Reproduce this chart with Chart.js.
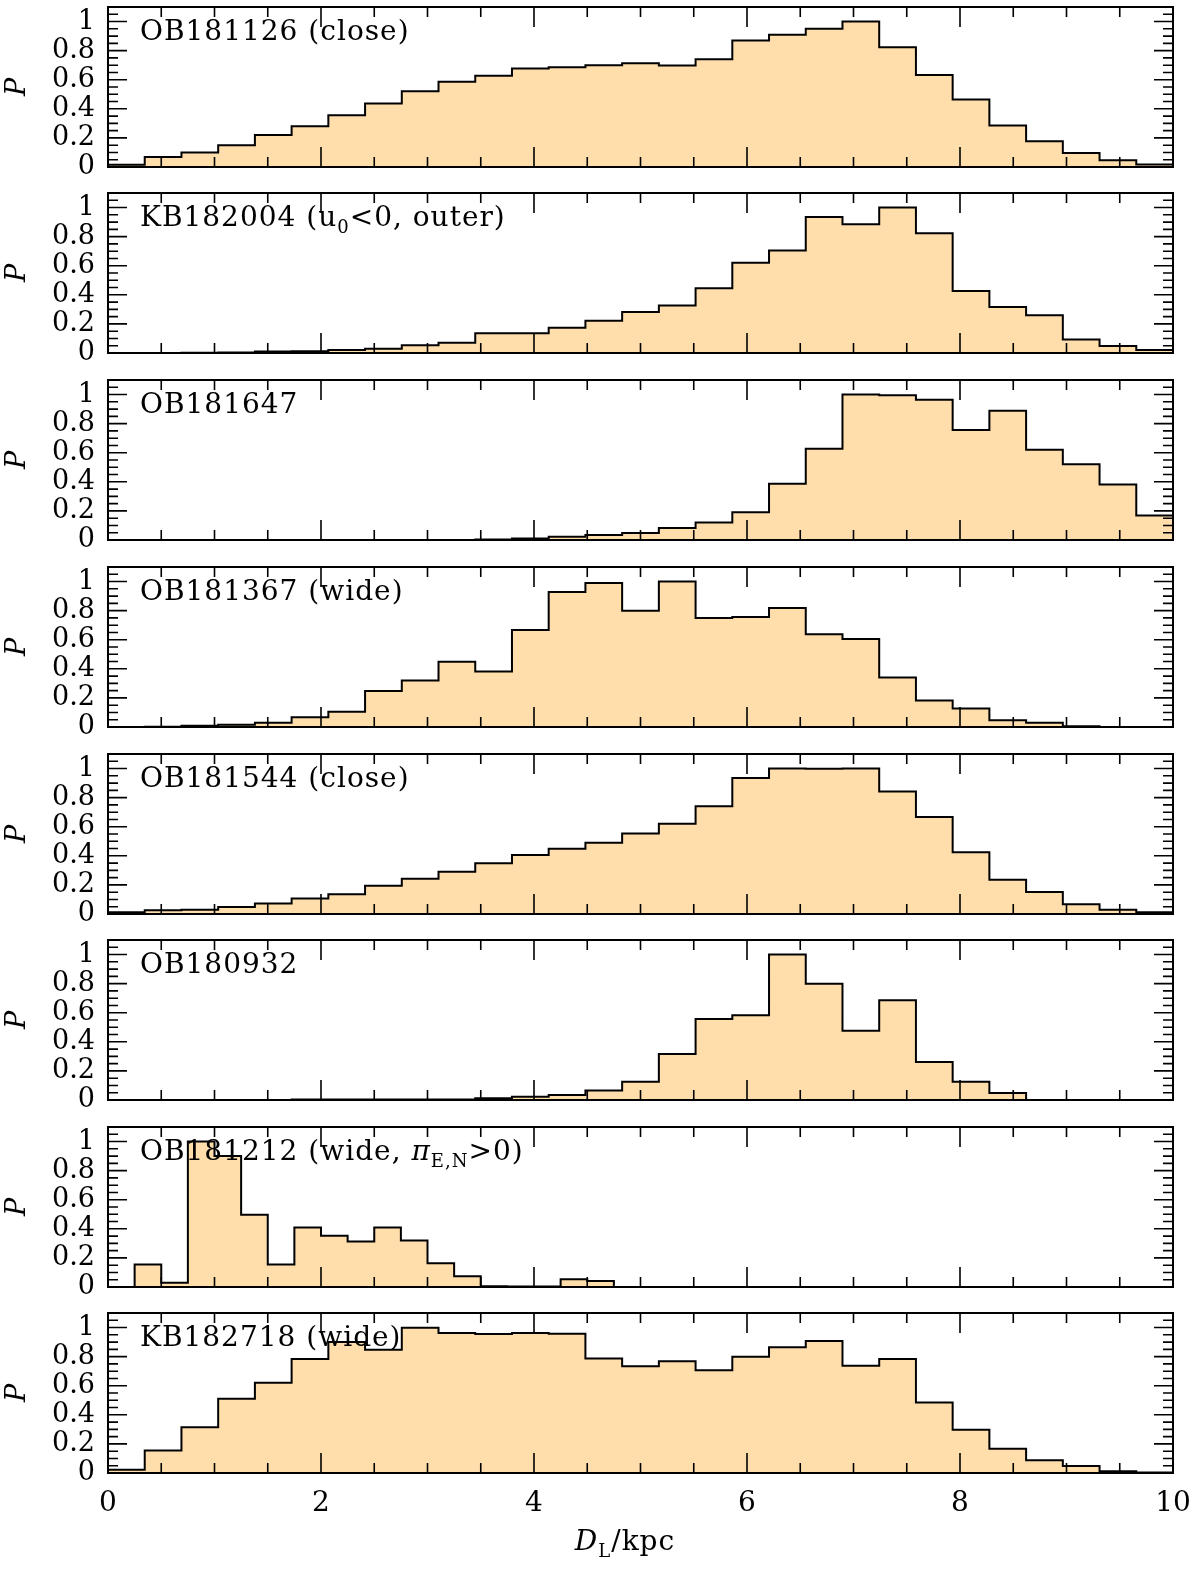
<!DOCTYPE html>
<html lang="en">
<head>
<meta charset="UTF-8">
<title>Distribuições de D_L</title>
<script src="https://cdn.jsdelivr.net/npm/chart.js"></script>
<style>
    body { margin: 0; background: #fff; }
    #quadro { position: relative; width: 1200px; height: 1570px; }
    .painel { position: absolute; left: 0; width: 1200px; }
</style>
</head>
<body>
<div id="quadro"></div>

<script>
    // valores (P normalizado por bin)
    const pOB181126 = [0.016, 0.069, 0.10, 0.15, 0.22, 0.28, 0.356, 0.437, 0.52, 0.586, 0.628, 0.678, 0.685, 0.70, 0.713,
        0.697, 0.74, 0.869, 0.91, 0.95, 1.0, 0.823, 0.632, 0.464, 0.285, 0.177, 0.097, 0.046, 0.018];
    const pKB182004 = [0, 0, 0.001, 0.003, 0.01, 0.012, 0.02, 0.03, 0.053, 0.07, 0.136, 0.136, 0.173, 0.222, 0.282,
        0.326, 0.446, 0.62, 0.704, 0.935, 0.885, 1.0, 0.824, 0.427, 0.316, 0.259, 0.092, 0.048, 0.02];
    const pOB181647 = [0, 0, 0, 0, 0, 0, 0, 0, 0, 0, 0.003, 0.01, 0.023, 0.035, 0.048,
        0.083, 0.12, 0.19, 0.386, 0.628, 1.0, 0.995, 0.965, 0.757, 0.889, 0.62, 0.52, 0.381, 0.169];
    const pOB181367 = [0, 0.002, 0.008, 0.015, 0.03, 0.067, 0.104, 0.247, 0.319, 0.448, 0.381, 0.667, 0.928, 0.99, 0.8,
        1.0, 0.75, 0.757, 0.818, 0.637, 0.605, 0.34, 0.182, 0.127, 0.046, 0.03, 0.005, 0, 0];
    const pOB181544 = [0.012, 0.025, 0.03, 0.048, 0.072, 0.106, 0.136, 0.194, 0.242, 0.291, 0.349, 0.406, 0.448, 0.49, 0.554,
        0.62, 0.741, 0.935, 1.0, 0.998, 1.0, 0.843, 0.667, 0.425, 0.236, 0.152, 0.067, 0.03, 0.012];
    const pOB180932 = [0, 0, 0, 0, 0, 0.004, 0.004, 0.004, 0.004, 0.004, 0.012, 0.023, 0.035, 0.065, 0.125,
        0.316, 0.557, 0.582, 1.0, 0.8, 0.476, 0.686, 0.261, 0.125, 0.048, 0, 0, 0, 0];
    const pOB181212 = [0, 0.155, 0.03, 1.0, 0.9, 0.497, 0.155, 0.409, 0.353, 0.312, 0.409, 0.319, 0.164, 0.074, 0.005,
        0.003, 0.003, 0.053, 0.042, 0, 0, 0, 0, 0, 0, 0, 0, 0, 0, 0,
        0, 0, 0, 0, 0, 0, 0, 0, 0, 0];
    const pKB182718 = [0.023, 0.155, 0.314, 0.51, 0.62, 0.783, 0.9, 0.848, 0.998, 0.963, 0.956, 0.963, 0.958, 0.788, 0.734,
        0.769, 0.707, 0.8, 0.864, 0.908, 0.737, 0.783, 0.485, 0.298, 0.166, 0.088, 0.048, 0.012, 0.003];

    const series = [pOB181126, pKB182004, pOB181647, pOB181367, pOB181544, pOB180932, pOB181212, pKB182718];

    // largura dos bins em kpc (o painel OB181212 usa bins de 0.25)
    const larguraBin = [10 / 29, 10 / 29, 10 / 29, 10 / 29, 10 / 29, 10 / 29, 0.25, 10 / 29];

    const rotulos = [
        [{ t: 'OB181126 (close)' }],
        [{ t: 'KB182004 (u' }, { t: '0', sub: true }, { t: '<0, outer)' }],
        [{ t: 'OB181647' }],
        [{ t: 'OB181367 (wide)' }],
        [{ t: 'OB181544 (close)' }],
        [{ t: 'OB180932' }],
        [{ t: 'OB181212 (wide, ' }, { t: 'π', it: true }, { t: 'E,N', sub: true }, { t: '>0)' }],
        [{ t: 'KB182718 (wide)' }]
    ];

    const xTicks = [0, 2, 4, 6, 8, 10];
    const yTicks = [0, 0.2, 0.4, 0.6, 0.8, 1];

    const topos = [7, 193, 380, 567, 754, 940, 1127, 1313];
    const ALTURA = 160;
    const MARGEM = 16;
    const FONTE = '"DejaVu Serif", serif';

    function escreve(ctx, partes, x, yBase) {
        for (const p of partes) {
            const tam = p.sub ? 18 : 28;
            ctx.font = (p.it ? 'italic ' : '') + tam + 'px ' + FONTE;
            ctx.fillText(p.t, x, yBase + (p.sub ? 7 : 0));
            x += ctx.measureText(p.t).width;
        }
        return x;
    }

    function larguraTexto(ctx, partes) {
        let w = 0;
        for (const p of partes) {
            ctx.font = (p.it ? 'italic ' : '') + (p.sub ? 18 : 28) + 'px ' + FONTE;
            w += ctx.measureText(p.t).width;
        }
        return w;
    }

    const moldura = {
        id: 'moldura',
        afterDatasetsDraw(chart, args, opts) {
            const ctx = chart.ctx;
            const a = chart.chartArea;
            const x = chart.scales.x;
            const y = chart.scales.y;
            ctx.save();
            ctx.strokeStyle = '#000';
            ctx.lineWidth = 2;
            ctx.strokeRect(a.left, a.top, a.right - a.left, a.bottom - a.top);

            ctx.lineWidth = 1.6;
            ctx.beginPath();
            for (let k = 1; k < 20; k++) {
                const px = x.getPixelForValue(k * 0.5);
                const len = k % 4 === 0 ? 20 : 10;
                ctx.moveTo(px, a.bottom); ctx.lineTo(px, a.bottom - len);
                ctx.moveTo(px, a.top); ctx.lineTo(px, a.top + len);
            }
            for (let k = 1; k < 22; k++) {
                const py = y.getPixelForValue(k * 0.05);
                const len = k % 4 === 0 ? 19 : 10;
                ctx.moveTo(a.left, py); ctx.lineTo(a.left + len, py);
                ctx.moveTo(a.right, py); ctx.lineTo(a.right - len, py);
            }
            ctx.stroke();

            ctx.fillStyle = '#000';
            ctx.textBaseline = 'alphabetic';
            ctx.textAlign = 'left';
            ctx.letterSpacing = '1px';
            escreve(ctx, opts.rotulo, a.left + 32, a.top + 33);

            if (opts.titulo) {
                const partes = [{ t: 'D', it: true }, { t: 'L', sub: true }, { t: '/kpc' }];
                const w = larguraTexto(ctx, partes);
                escreve(ctx, partes, 625 - w / 2, a.bottom + 77);
            }
            ctx.restore();
        }
    };

    function criaPainel(i) {
        const ultimo = i === series.length - 1;
        const topo = topos[i] - MARGEM;
        const div = document.createElement('div');
        div.className = 'painel';
        div.style.top = topo + 'px';
        div.style.height = (ultimo ? 1570 - topo : ALTURA + 2 * MARGEM) + 'px';
        const cv = document.createElement('canvas');
        div.appendChild(cv);
        document.getElementById('quadro').appendChild(div);

        const w = larguraBin[i];
        const pontos = series[i].map((v, k) => ({ x: k * w, y: v }));
        pontos.push({ x: series[i].length * w, y: 0 });

        new Chart(cv, {
            type: 'line',
            data: {
                datasets: [{
                    data: pontos,
                    stepped: true,
                    fill: 'origin',
                    backgroundColor: '#ffdeac',
                    borderColor: '#000',
                    borderWidth: 2,
                    pointRadius: 0
                }]
            },
            options: {
                responsive: true,
                maintainAspectRatio: false,
                animation: false,
                layout: { padding: { top: MARGEM, bottom: ultimo ? 0 : MARGEM, left: 0, right: 27 } },
                plugins: {
                    legend: { display: false },
                    tooltip: { enabled: false },
                    moldura: { rotulo: rotulos[i], titulo: ultimo }
                },
                scales: {
                    x: {
                        type: 'linear',
                        min: 0,
                        max: 10,
                        display: ultimo,
                        grid: { display: false, drawTicks: false },
                        border: { display: false },
                        afterBuildTicks: s => { s.ticks = xTicks.map(v => ({ value: v })); },
                        afterFit: s => {
                            s.height = ultimo ? 1570 - (topos[i] + ALTURA) : 0;
                            s.paddingLeft = 0;
                            s.paddingRight = 0;
                        },
                        ticks: {
                            padding: 14,
                            color: '#000',
                            maxRotation: 0,
                            autoSkip: false,
                            font: { family: FONTE, size: 28 },
                            callback: v => String(v)
                        }
                    },
                    y: {
                        min: 0,
                        max: 1.1,
                        grid: { display: false, drawTicks: false },
                        border: { display: false },
                        afterBuildTicks: s => { s.ticks = yTicks.map(v => ({ value: v })); },
                        afterFit: s => {
                            s.width = 108;
                            s.paddingTop = 0;
                            s.paddingBottom = 0;
                        },
                        ticks: {
                            padding: 13,
                            color: '#000',
                            autoSkip: false,
                            font: { family: FONTE, size: 27 },
                            callback: v => String(v)
                        },
                        title: {
                            display: true,
                            text: 'P',
                            color: '#000',
                            padding: { top: 2, bottom: 0 },
                            font: { family: FONTE, size: 27, style: 'italic' }
                        }
                    }
                }
            },
            plugins: [moldura]
        });
    }

    series.forEach((s, i) => criaPainel(i));
</script>
</body>
</html>
